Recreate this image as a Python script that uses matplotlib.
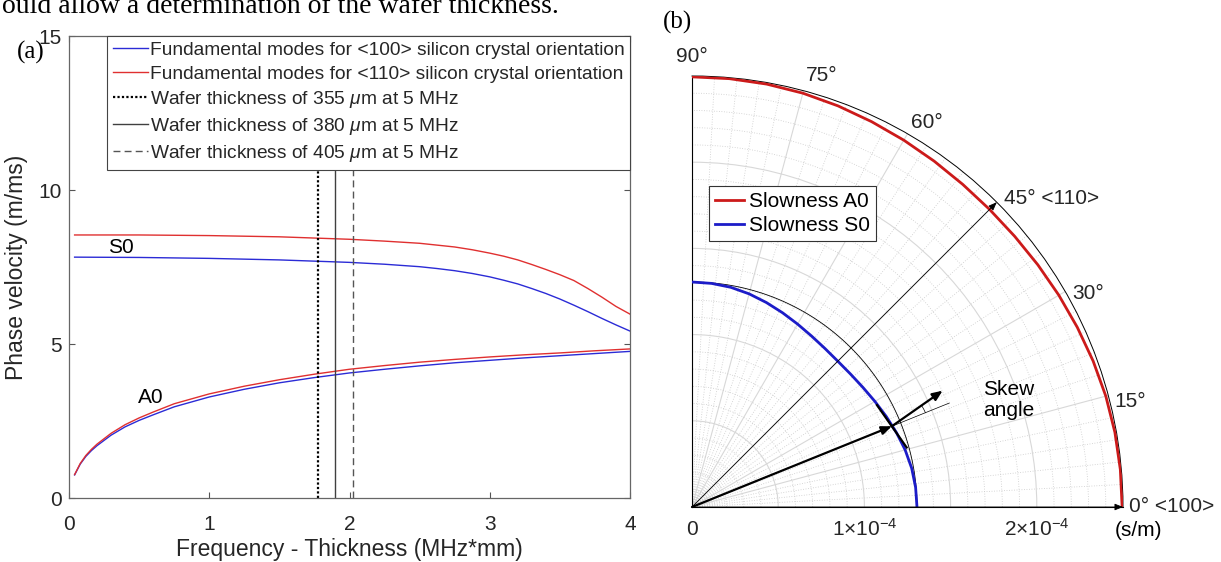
import matplotlib.pyplot as plt
import numpy as np

plt.rcParams['font.family'] = ['Liberation Sans', 'DejaVu Sans']
plt.rcParams['mathtext.fontset'] = 'custom'
plt.rcParams['mathtext.rm'] = 'Liberation Sans'
plt.rcParams['mathtext.it'] = 'Liberation Sans:italic'

# ---- (a) dispersion curves, phase velocity (m/ms) vs frequency-thickness (MHz*mm)
a0_fd = [0.04, 0.08, 0.12, 0.16, 0.2, 0.3, 0.4, 0.5, 0.6, 0.75, 1.0, 1.25, 1.5,
         1.75, 2.0, 2.25, 2.5, 2.75, 3.0, 3.25, 3.5, 3.75, 4.0]
a0_100 = [0.75, 1.10, 1.35, 1.54, 1.70, 2.04, 2.31, 2.52, 2.70, 2.96, 3.28, 3.53, 3.74,
          3.91, 4.06, 4.18, 4.29, 4.39, 4.47, 4.55, 4.62, 4.69, 4.76]
a0_110 = [0.76, 1.12, 1.38, 1.58, 1.75, 2.10, 2.38, 2.60, 2.79, 3.06, 3.38, 3.63, 3.84,
          4.02, 4.18, 4.30, 4.41, 4.50, 4.58, 4.65, 4.71, 4.78, 4.84]

s0_fd = [0.04, 0.5, 1.0, 1.5, 2.0, 2.25, 2.5, 2.625, 2.75, 2.875, 3.0, 3.1, 3.2, 3.3,
         3.4, 3.5, 3.6, 3.7, 3.8, 3.9, 4.0]
s0_100 = [7.82, 7.81, 7.78, 7.73, 7.65, 7.59, 7.51, 7.45, 7.38, 7.29, 7.18, 7.07, 6.95,
          6.80, 6.64, 6.46, 6.26, 6.05, 5.83, 5.62, 5.42]
s0_110 = [8.54, 8.54, 8.52, 8.48, 8.40, 8.34, 8.27, 8.21, 8.15, 8.06, 7.95, 7.85, 7.73,
          7.58, 7.42, 7.25, 7.06, 6.80, 6.52, 6.22, 5.97]

wafer_fd = [1.775, 1.9, 2.025]
wafer_labels = [r'Wafer thickness of 355 $\mu$m at 5 MHz',
                r'Wafer thickness of 380 $\mu$m at 5 MHz',
                r'Wafer thickness of 405 $\mu$m at 5 MHz']

# ---- (b) slowness curves (s/m) vs propagation angle (deg)
angle_deg = [0, 5, 10, 15, 20, 25, 30, 35, 40, 45, 50, 55, 60, 65, 70, 75, 80, 85, 90]
slow_a0 = [2.495, 2.494, 2.491, 2.485, 2.476, 2.466, 2.457, 2.449, 2.443, 2.441,
           2.443, 2.449, 2.457, 2.466, 2.476, 2.485, 2.491, 2.494, 2.495]
slow_s0 = [1.305, 1.302, 1.294, 1.280, 1.262, 1.243, 1.225, 1.210, 1.200, 1.196,
           1.200, 1.210, 1.225, 1.243, 1.262, 1.280, 1.294, 1.302, 1.305]
slow_scale = 1e-4
r_max = 2.5e-4
s0_ref = 1.305e-4          # isotropic reference circle for S0

# skew angle construction
skew_theta = 22.0          # deg, direction of slowness vector
skew_r = 1.25e-4           # point on S0 curve
group_dir = 35.0           # deg, direction of energy (group) vector
group_len = 0.36e-4
radial_ext = 1.61e-4
tangent_half = 0.15e-4
arc_rad = 0.21e-4

theta_labels = ['0° <100>', '15°', '30°', '45° <110>', '60°', '75°', '90°']

W, H = 1221, 562
fig = plt.figure(figsize=(W / 100, H / 100), dpi=100)


def box(x0, y0, x1, y1):
    return [x0 / W, 1 - y1 / H, (x1 - x0) / W, (y1 - y0) / H]


blue = '#2b2bd6'
red = '#e03030'
txt = '#262626'

# ================= (a) =================
ax = fig.add_axes(box(69, 36, 630, 498))
ax.plot(a0_fd, a0_100, color=blue, lw=1.0,
        label='Fundamental modes for <100> silicon crystal orientation')
ax.plot(s0_fd, s0_100, color=blue, lw=1.0)
ax.plot(a0_fd, a0_110, color=red, lw=1.0,
        label='Fundamental modes for <110> silicon crystal orientation')
ax.plot(s0_fd, s0_110, color=red, lw=1.0)
vstyles = [dict(ls=(0, (1, 1)), color='k', lw=1.6),
           dict(ls='-', color='#404040', lw=1.0),
           dict(ls=(0, (5, 3)), color='#555555', lw=1.0)]
for fd, lab, st in zip(wafer_fd, wafer_labels, vstyles):
    ax.axvline(fd, label=lab, **st)

ax.text(0.37, 8.12, 'S0', fontsize=15, color='k', ha='center', va='center')
ax.text(0.585, 3.25, 'A0', fontsize=15, color='k', ha='center', va='center')

ax.set_xlim(0, 4)
ax.set_ylim(0, 15)
ax.set_xticks([0, 1, 2, 3, 4])
ax.set_yticks([0, 5, 10, 15])
ax.tick_params(direction='in', length=4, top=True, right=True, color='#555555',
               labelcolor=txt, labelsize=15)
ax.tick_params(axis='x', pad=12)
ax.tick_params(axis='y', pad=5)
for sp in ax.spines.values():
    sp.set_color('#666666')
    sp.set_linewidth(0.9)
ax.set_xlabel('Frequency - Thickness (MHz*mm)', fontsize=16.5, color=txt, labelpad=3)
ax.set_ylabel('Phase velocity (m/ms)', fontsize=16.5, color=txt, labelpad=8)

leg = ax.legend(loc='upper right', bbox_to_anchor=(1, 1), borderaxespad=0,
                fontsize=13.8, handlelength=1.8, handletextpad=0.1,
                labelspacing=0.32, borderpad=0.3, fancybox=False,
                framealpha=1, edgecolor='#444444')
leg.get_frame().set_linewidth(0.8)
for t in leg.get_texts():
    t.set_color(txt)

# ================= (b) =================
pax = fig.add_axes(box(692, 76, 1123, 507), projection='polar')
pax.set_thetamin(0)
pax.set_thetamax(90)
pax.set_ylim(0, r_max)

pax.set_xticks(np.deg2rad([0, 15, 30, 45, 60, 75, 90]))
pax.set_xticks(np.deg2rad(np.arange(0, 91, 3)), minor=True)
pax.set_yticks([0.5e-4, 1e-4, 1.5e-4, 2e-4])
pax.set_yticks(np.arange(1, 25) * 0.1e-4, minor=True)
pax.set_xticklabels([])
pax.set_yticklabels([])
pax.tick_params(which='both', length=0)
pax.grid(True, which='major', color='#d8d8d8', lw=0.8, ls='-')
pax.grid(True, which='minor', color='#cacaca', lw=0.6, ls=(0, (1, 2)))
pax.spines['polar'].set_color('k')
pax.spines['polar'].set_linewidth(0.7)
pax.spines['start'].set_visible(False)
pax.spines['end'].set_visible(False)
pax.spines['inner'].set_visible(False)

th = np.deg2rad(angle_deg)
pax.plot(th, np.array(slow_a0) * slow_scale, color='#cc1a1a', lw=2.0,
         label='Slowness A0', zorder=5)
pax.plot(th, np.array(slow_s0) * slow_scale, color='#1c1cc8', lw=2.0,
         label='Slowness S0', zorder=5)
circle_t = np.linspace(0, np.pi / 2, 91)
pax.plot(circle_t, np.full_like(circle_t, s0_ref), color='k', lw=0.6, zorder=4)

plg = pax.legend(loc='upper left', fontsize=15, handlelength=1.4,
                 handletextpad=0.2, labelspacing=0.22, borderpad=0.3,
                 borderaxespad=0, fancybox=False, framealpha=1,
                 edgecolor='#333333')
plg.set_bbox_to_anchor((709 / W, 1 - 186 / H), transform=fig.transFigure)
plg.get_frame().set_linewidth(0.8)


def to_polar(x, y):
    return np.arctan2(y, x), np.hypot(x, y)


# 0 deg and 45 deg axes arrows
thin = dict(arrowstyle='-|>,head_length=0.5,head_width=0.2', color='k', lw=0.6,
            shrinkA=0, shrinkB=0)
pax.annotate('', xy=(0, r_max), xytext=(0, 0), arrowprops=thin, zorder=6)
pax.annotate('', xy=(np.pi / 4, r_max), xytext=(0, 0), arrowprops=thin, zorder=6)

# skew angle construction
ts = np.deg2rad(skew_theta)
tg = np.deg2rad(group_dir)
px_, py_ = skew_r * np.cos(ts), skew_r * np.sin(ts)
pax.plot([ts, ts], [0, radial_ext], color='k', lw=0.5, zorder=6)
thick = dict(arrowstyle='-|>,head_length=0.6,head_width=0.25', color='k', lw=1.6,
             shrinkA=0, shrinkB=0)
pax.annotate('', xy=(ts, skew_r), xytext=(0, 0), arrowprops=thick, zorder=7)
ge = to_polar(px_ + group_len * np.cos(tg), py_ + group_len * np.sin(tg))
pax.annotate('', xy=ge, xytext=(ts, skew_r), arrowprops=thick, zorder=7)
tn = tg - np.pi / 2
t1 = to_polar(px_ + tangent_half * np.cos(tn), py_ + tangent_half * np.sin(tn))
t2 = to_polar(px_ - tangent_half * np.cos(tn), py_ - tangent_half * np.sin(tn))
pax.plot([t1[0], t2[0]], [t1[1], t2[1]], color='k', lw=1.6, zorder=7)
arc_t = np.linspace(ts, tg, 12)
arc = to_polar(px_ + arc_rad * np.cos(arc_t), py_ + arc_rad * np.sin(arc_t))
pax.plot(arc[0], arc[1], color='k', lw=0.5, zorder=7)
pax.text(np.deg2rad(20.2), 1.8e-4, 'Skew\nangle', fontsize=15, color='k',
         ha='left', va='center', linespacing=1.1)

# theta labels
lab_pos = [None, 13.5, 28.3, None, 58.5, 73.2, 90]
for lab, a in zip(theta_labels, lab_pos):
    if a is None:
        continue
    pax.text(np.deg2rad(a), 1.045 * r_max, lab, fontsize=15, color=txt,
             ha='center', va='center')
pax.text(np.deg2rad(44.6), 1.018 * r_max, theta_labels[3], fontsize=15, color=txt,
         ha='left', va='center')
pax.annotate(theta_labels[0], xy=(0, r_max), xytext=(4, 0), textcoords='offset points',
             fontsize=15, color=txt, ha='left', va='center')
pax.annotate('(s/m)', xy=(0, r_max), xytext=(11, -17), textcoords='offset points',
             fontsize=15, color='k', ha='center', va='center')

# radial labels
for rv, lab in zip([0, 1e-4, 2e-4], ['0', r'1$\times$10$^{-4}$', r'2$\times$10$^{-4}$']):
    pax.annotate(lab, xy=(0, rv), xytext=(0, -16), textcoords='offset points',
                 fontsize=15, color=txt, ha='center', va='center')

# panel labels and cut-off caption line
fig.text(31 / W, 1 - 52 / H, '(a)', fontsize=18, family='Liberation Serif',
         ha='center', va='center')
fig.text(677 / W, 1 - 22 / H, '(b)', fontsize=18, family='Liberation Serif',
         ha='center', va='center')
fig.text(2 / W, 1 - 13 / H, 'ould allow a determination of the wafer thickness.',
         fontsize=20, family='Liberation Serif', ha='left', va='baseline')

fig.savefig('out.png', dpi=100)
